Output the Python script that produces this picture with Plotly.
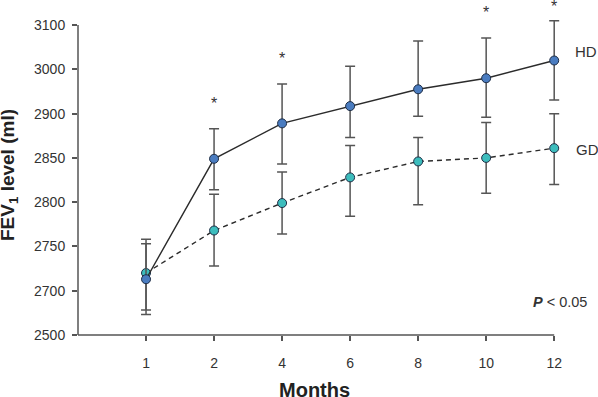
import numpy as np
import plotly.graph_objects as go

# ---- data ----
months = ["1", "2", "4", "6", "8", "10", "12"]

hd_mean = [2713, 2849, 2889, 2917, 2955, 2980, 3020]
hd_upper = [2758, 2883, 2967, 3007, 3064, 3071, 3110]
hd_lower = [2593, 2814, 2843, 2873, 2897, 2896, 2931]

gd_mean = [2720, 2768, 2799, 2828, 2846, 2850, 2861]
gd_upper = [2753, 2809, 2834, 2864, 2873, 2890, 2900]
gd_lower = [2613, 2728, 2764, 2784, 2797, 2810, 2820]

y_tick_values = [2500, 2700, 2750, 2800, 2850, 2900, 3000, 3100]
significant = [False, True, True, False, False, True, True]

# ---- the reference's axis is spaced evenly by tick, not linearly ----
tick_pos = np.arange(len(y_tick_values), dtype=float)
y_top = tick_pos[-1]
y_range = [0, y_top + 0.16]


def to_axis(v):
    v = np.asarray(v, dtype=float)
    t = np.interp(v, y_tick_values, tick_pos)
    hi = v > y_tick_values[-1]
    step = y_tick_values[-1] - y_tick_values[-2]
    t[hi] = tick_pos[-1] + (v[hi] - y_tick_values[-1]) / step
    return t


FONT = "Arial, Liberation Sans, sans-serif"
INK = "#333333"
AXIS = "#555555"


def series(mean, upper, lower, name, fill, dash):
    m = to_axis(mean)
    return go.Scatter(
        x=months, y=m, name=name, mode="lines+markers",
        line=dict(color="#2b2b2b", width=1.4, dash=dash),
        marker=dict(size=9, color=fill, line=dict(color="#1e2d45", width=1)),
        error_y=dict(type="data", symmetric=False,
                     array=to_axis(upper) - m, arrayminus=m - to_axis(lower),
                     color=AXIS, thickness=1.5, width=5),
        cliponaxis=False, showlegend=False,
    )


fig = go.Figure()
fig.add_trace(series(gd_mean, gd_upper, gd_lower, "GD", "#3dbdbd", "5px,4px"))
fig.add_trace(series(hd_mean, hd_upper, hd_lower, "HD", "#4a7cc0", "solid"))

last = len(months) - 1
annotations = []
hd_up_paper = to_axis(hd_upper) / y_range[1]
for i, s in enumerate(significant):
    if s:
        annotations.append(dict(x=i, y=hd_up_paper[i], xref="x", yref="paper",
                                text="*", showarrow=False, yanchor="middle",
                                yshift=25 if i < last else 14,
                                font=dict(family=FONT, size=16, color=INK)))

annotations += [
    dict(x=last, y=to_axis([hd_mean[-1]])[0], xref="x", yref="y", text="HD",
         showarrow=False, xanchor="left", xshift=19, yshift=9,
         font=dict(family=FONT, size=15, color=INK)),
    dict(x=last, y=to_axis([gd_mean[-1]])[0], xref="x", yref="y", text="GD",
         showarrow=False, xanchor="left", xshift=20, yshift=-1,
         font=dict(family=FONT, size=15, color=INK)),
    dict(x=1, y=0, xref="paper", yref="paper", text="<b><i>P</i></b> < 0.05",
         showarrow=False, xanchor="right", xshift=28, yanchor="middle", yshift=33,
         font=dict(family=FONT, size=14.5, color=INK)),
    dict(x=0.5, y=0, xref="paper", yref="paper", text="<b>Months</b>",
         showarrow=False, yanchor="middle", yshift=-55, xshift=-5,
         font=dict(family=FONT, size=20, color="#222222")),
    dict(x=0, y=0, xref="paper", yref="paper", text="<b>FEV<sub>1</sub> level (ml)</b>",
         showarrow=False, textangle=-90, xanchor="center", yanchor="middle",
         xshift=-69, yshift=160,
         font=dict(family=FONT, size=19, color="#222222")),
]

fig.update_layout(
    width=598, height=397,
    margin=dict(l=78, r=37, t=18, b=62),
    paper_bgcolor="white", plot_bgcolor="white",
    font=dict(family=FONT, color=INK),
    annotations=annotations,
    shapes=[
        dict(type="line", xref="x", yref="paper", x0=-1, x1=last, y0=0, y1=0,
             line=dict(color=AXIS, width=1.5), layer="below"),
        dict(type="line", xref="paper", yref="y", x0=0, x1=0, y0=0, y1=y_top,
             line=dict(color=AXIS, width=1.5), layer="below"),
    ],
    xaxis=dict(type="category", range=[-1, last + 0.1],
               showgrid=False, zeroline=False, showline=False,
               ticks="outside", ticklen=5, tickcolor=AXIS, tickwidth=1.5,
               ticklabelstandoff=10,
               tickfont=dict(family=FONT, size=14, color=INK)),
    yaxis=dict(range=y_range,
               tickvals=tick_pos, ticktext=[str(v) for v in y_tick_values],
               showgrid=False, zeroline=False, showline=False,
               ticks="outside", ticklen=5, tickcolor=AXIS, tickwidth=1.5,
               ticklabelstandoff=4,
               tickfont=dict(family=FONT, size=14, color=INK)),
)

fig.write_html("out.html", config={"displayModeBar": False},
               post_script="document.body.style.margin='0';document.body.style.overflow='hidden';")
